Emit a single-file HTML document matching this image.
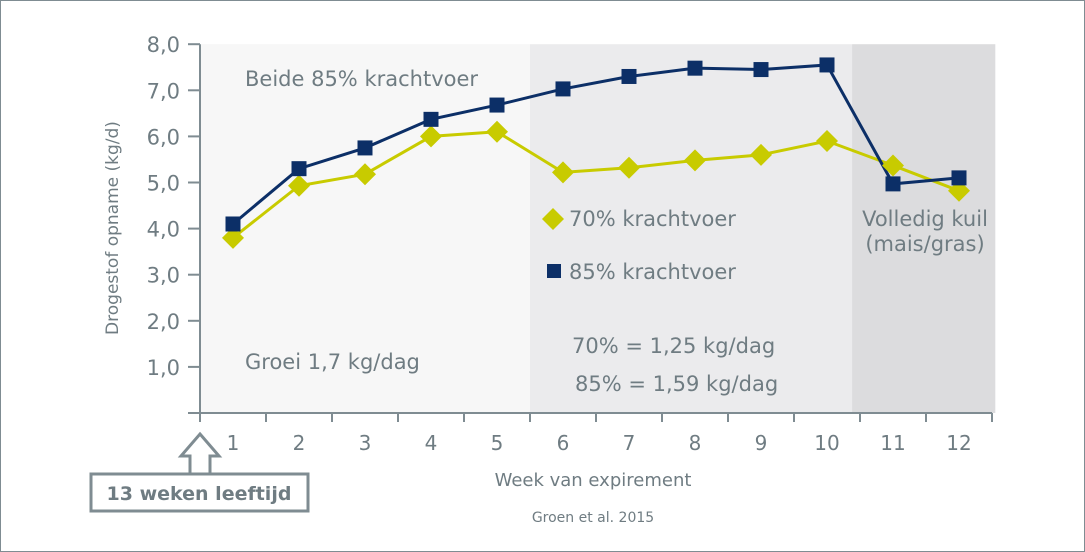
<!DOCTYPE html>
<html><head><meta charset="utf-8"><style>
body{margin:0;background:#fff;}
svg{display:block;font-family:"DejaVu Sans","Liberation Sans",sans-serif;}
</style></head><body>
<svg width="1085" height="552" viewBox="0 0 1085 552">
<rect x="0.5" y="0.5" width="1084" height="551" fill="#fff" stroke="#7f8c92" stroke-width="1"/>
<g id="plot"></g>
</svg>
<script>
const weeks=[1,2,3,4,5,6,7,8,9,10,11,12];
const s85=[4.1,5.3,5.75,6.37,6.68,7.03,7.3,7.48,7.45,7.55,4.97,5.1];
const s70=[3.8,4.93,5.18,6.0,6.1,5.22,5.32,5.48,5.6,5.9,5.37,4.82];
const yTicks=[1,2,3,4,5,6,7,8];
const yLabels=["1,0","2,0","3,0","4,0","5,0","6,0","7,0","8,0"];
const NS="http://www.w3.org/2000/svg";
const g=document.getElementById('plot');
const X0=200,W=66,Y0=413,YU=46.1;
const xs=w=>X0+(w-0.5)*W;
const ys=v=>Y0-v*YU;
function el(t,a,txt){const e=document.createElementNS(NS,t);for(const k in a)e.setAttribute(k,a[k]);if(txt!==undefined)e.textContent=txt;g.appendChild(e);return e;}
// backgrounds
let e;
e=el('rect',{x:X0,y:ys(8),width:xs(5.5)-X0,height:Y0-ys(8),fill:'#f7f7f7'});

e=el('rect',{x:xs(5.5),y:ys(8),width:xs(10.38)-xs(5.5),height:Y0-ys(8),fill:'#ebebed'});

e=el('rect',{x:xs(10.38),y:ys(8),width:xs(12.55)-xs(10.38),height:Y0-ys(8),fill:'#dcdcde'});

// axes
e=el('line',{x1:X0,y1:ys(8),x2:X0,y2:Y0,stroke:'#7f8c92','stroke-width':2});

e=el('line',{x1:X0-12,y1:Y0,x2:xs(12.5),y2:Y0,stroke:'#7f8c92','stroke-width':2});

yTicks.forEach((v,i)=>{
 e=el('line',{x1:X0-12,y1:ys(v),x2:X0,y2:ys(v),stroke:'#7f8c92','stroke-width':2});
 
 e=el('text',{x:X0-20,y:ys(v)+8,'text-anchor':'end','font-size':21,fill:'#6f7c82'},yLabels[i]);
 
});
for(let i=0;i<=12;i++){
 e=el('line',{x1:X0+i*W,y1:Y0,x2:X0+i*W,y2:Y0+9,stroke:'#7f8c92','stroke-width':2});
 
}
weeks.forEach(w=>{
 e=el('text',{x:xs(w),y:450,'text-anchor':'middle','font-size':20,fill:'#6f7c82'},String(w));
 
});
// lines
function line(data,color,name){
 const pts=data.map((v,i)=>xs(weeks[i])+','+ys(v)).join(' ');
 e=el('polyline',{points:pts,fill:'none',stroke:color,'stroke-width':3});
 
}
line(s70,'#c8cb00','line-70');
line(s85,'#0c2f67','line-85');
s70.forEach((v,i)=>{const x=xs(weeks[i]),y=ys(v);
 e=el('polygon',{points:`${x},${y-11} ${x+11},${y} ${x},${y+11} ${x-11},${y}`,fill:'#c8cb00'});
 });
s85.forEach((v,i)=>{const x=xs(weeks[i]),y=ys(v);
 e=el('rect',{x:x-7.5,y:y-7.5,width:15,height:15,fill:'#0c2f67'});
 });
// legend
e=el('polygon',{points:'553,208 564,219 553,230 542,219',fill:'#c8cb00'});

e=el('text',{x:569,y:226,'font-size':21,fill:'#6f7c82'},'70% krachtvoer');

e=el('rect',{x:547,y:264,width:14,height:14,fill:'#0c2f67'});

e=el('text',{x:569,y:279,'font-size':21,fill:'#6f7c82'},'85% krachtvoer');

// annotations
const ann=[[245,86,'Beide 85% krachtvoer','start','annotation-phase1'],[245,369,'Groei 1,7 kg/dag','start','annotation-growth'],
[572,353,'70% = 1,25 kg/dag','start','annotation-growth-70'],[575,391,'85% = 1,59 kg/dag','start','annotation-growth-85'],
[925,226,'Volledig kuil','middle','annotation-silage'],[925,251,'(mais/gras)','middle','annotation-silage-2']];
ann.forEach(a=>{e=el('text',{x:a[0],y:a[1],'text-anchor':a[3],'font-size':21,fill:'#6f7c82'},a[2]);
 });
e=el('text',{x:0,y:0,transform:'translate(118,228) rotate(-90)','text-anchor':'middle','font-size':17,fill:'#6f7c82'},'Drogestof opname  (kg/d)');

e=el('text',{x:593,y:486,'text-anchor':'middle','font-size':18,fill:'#6f7c82'},'Week van expirement');

e=el('text',{x:593,y:522,'text-anchor':'middle','font-size':14,fill:'#6f7c82'},'Groen et al. 2015');

// arrow + box
e=el('polygon',{points:'200,434 219,456 210,456 210,474 190,474 190,456 181,456',fill:'#fff',stroke:'#7f8c92','stroke-width':3});

e=el('rect',{x:91,y:474,width:217,height:37,fill:'#fff',stroke:'#7f8c92','stroke-width':3});

e=el('text',{x:199,y:500,'text-anchor':'middle','font-size':19,'font-weight':'bold',fill:'#6f7c82'},'13 weken leeftijd');

</script>
</body></html>
